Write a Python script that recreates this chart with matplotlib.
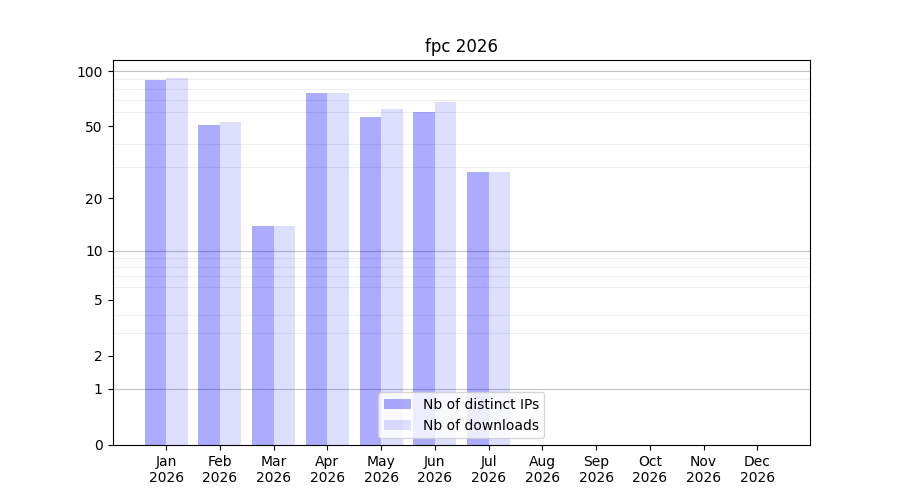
import numpy as np
import matplotlib
matplotlib.use("Agg")
import matplotlib.pyplot as plt
from matplotlib.ticker import FixedLocator, FixedFormatter, NullFormatter

months = ["Jan", "Feb", "Mar", "Apr", "May", "Jun", "Jul", "Aug", "Sep", "Oct", "Nov", "Dec"]
year = "2026"
distinct_ips = [89, 51, 14, 76, 56, 60, 28, 0, 0, 0, 0, 0]
downloads = [92, 53, 14, 76, 62, 68, 28, 0, 0, 0, 0, 0]
ytick_vals = [0, 1, 2, 5, 10, 20, 50, 100]
minor_vals = [2, 3, 4, 5, 6, 7, 8, 9, 20, 30, 40, 50, 60, 70, 80, 90]
major_grid = [1, 10, 100]

def fwd(y):
    return np.log10(np.maximum(y, 0) + 1)

def inv(y):
    return 10 ** y - 1

fig, ax = plt.subplots(figsize=(9, 5), dpi=100)
ax.set_yscale("function", functions=(fwd, inv))

x = np.arange(len(months))
w = 0.4
ax.bar(x - w / 2, distinct_ips, width=w, color="blue", alpha=0.33, label="Nb of distinct IPs", zorder=2)
ax.bar(x + w / 2, downloads, width=w, color="blue", alpha=0.13, label="Nb of downloads", zorder=2)

ax.set_ylim(0, 114.7)
ax.set_xlim(-1.0, 11.98)
ax.yaxis.set_major_locator(FixedLocator(ytick_vals))
ax.yaxis.set_major_formatter(FixedFormatter([str(v) for v in ytick_vals]))
ax.yaxis.set_minor_locator(FixedLocator(minor_vals))
ax.yaxis.set_minor_formatter(NullFormatter())
ax.tick_params(axis="y", which="minor", length=0)
ax.grid(True, axis="y", which="minor", color="#eeeeee", linewidth=0.8, zorder=0)
for v in major_grid:
    ax.axhline(v, color="#c4c4c4", linewidth=0.8, zorder=1)

ax.set_xticks(x)
ax.set_xticklabels([f"{m}\n{year}" for m in months])
ax.set_title("fpc 2026")
ax.legend(loc="lower center")

fig.savefig("out.png", dpi=100)
